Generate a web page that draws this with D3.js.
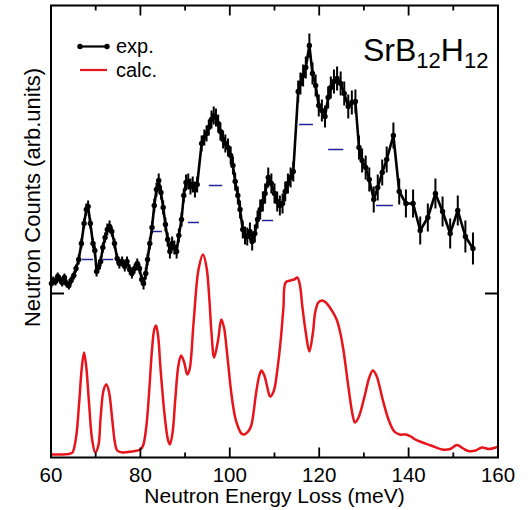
<!DOCTYPE html>
<html>
<head>
<meta charset="utf-8">
<script src="https://cdn.jsdelivr.net/npm/d3@7"></script>
<style>
  html, body { margin: 0; padding: 0; background: #fff; }
  svg { display: block; font-family: "Liberation Sans", Arial, sans-serif; }
</style>
</head>
<body>
<svg id="chart" width="529" height="510"></svg>
<script>
// x ticks (meV)
const majorTicks = [60, 80, 100, 120, 140, 160];
const minorTicks = [70, 90, 110, 130, 150];

// experimental spectrum sits on an offset marked by the y tick
const expOffset = 164;

// [energy, counts, error]
const expData = [
  [60.1, 174, 4], [60.5, 177, 4], [61.0, 176, 4], [61.5, 181, 4], [62.0, 178, 4],
  [62.5, 175, 4], [63.0, 180, 4], [63.5, 174, 4], [64.0, 172, 4], [64.5, 177, 4],
  [65.1, 182, 4], [65.6, 189, 4], [66.2, 198, 5], [66.8, 214, 5], [67.4, 234, 5],
  [67.9, 248, 6], [68.3, 251, 6], [68.8, 234, 5], [69.4, 214, 5], [69.8, 207, 5],
  [70.2, 186, 5], [70.6, 190, 5], [71.1, 196, 5], [71.6, 210, 5], [72.1, 220, 5],
  [72.6, 228, 6], [73.1, 231, 6], [73.6, 226, 5], [74.2, 214, 5], [74.8, 199, 5],
  [75.3, 194, 5], [75.9, 196, 5], [76.5, 191, 5], [77.0, 196, 5], [77.6, 188, 5],
  [78.1, 184, 5], [78.7, 189, 5], [79.3, 194, 5], [79.8, 189, 5], [80.3, 178, 5],
  [80.7, 174, 6], [81.2, 184, 6], [81.6, 198, 6], [82.1, 214, 6], [82.6, 230, 6],
  [83.1, 252, 7], [83.6, 268, 7], [84.1, 277, 7], [84.6, 265, 7], [85.1, 250, 7],
  [85.6, 233, 7], [86.1, 218, 7], [86.6, 206, 7], [87.1, 214, 7], [87.6, 210, 7],
  [88.1, 206, 7], [88.6, 222, 7], [89.2, 238, 7], [89.7, 262, 7], [90.2, 275, 8],
  [90.7, 276, 8], [91.2, 271, 8], [91.7, 273, 8], [92.2, 268, 8], [92.7, 273, 8],
  [93.7, 314, 8], [94.3, 320, 8], [94.8, 324, 8], [95.3, 330, 8], [95.9, 338, 9],
  [96.4, 342, 9], [96.9, 340, 9], [97.4, 334, 9], [97.9, 326, 9], [98.5, 318, 9],
  [99.0, 314, 9], [99.6, 310, 9], [100.2, 302, 9], [100.7, 292, 9], [101.2, 276, 9],
  [101.8, 262, 9], [102.3, 248, 9], [102.9, 228, 9], [103.4, 222, 9], [103.9, 221, 9],
  [104.5, 226, 9], [105.0, 216, 9], [105.6, 224, 9], [106.2, 238, 9], [106.8, 248, 10],
  [107.4, 256, 10], [107.9, 264, 10], [108.6, 280, 10], [109.3, 274, 10], [110.0, 264, 10],
  [110.6, 256, 10], [111.2, 252, 10], [111.8, 254, 10], [112.4, 266, 10], [113.0, 274, 10],
  [113.6, 280, 10], [114.2, 286, 10], [115.3, 366, 11], [115.8, 374, 11], [116.4, 382, 11],
  [117.0, 390, 11], [117.8, 412, 12], [118.5, 384, 11], [119.2, 372, 11], [119.9, 352, 11],
  [120.6, 347, 11], [121.3, 341, 11], [122.0, 360, 11], [122.6, 370, 11], [123.3, 376, 12],
  [124.0, 379, 12], [124.8, 374, 12], [125.6, 364, 12], [126.5, 351, 12], [127.3, 355, 12],
  [128.1, 356, 12], [128.9, 310, 12], [129.6, 297, 12], [130.4, 290, 12], [131.2, 278, 12],
  [132.2, 258, 13], [133.1, 270, 13], [134.1, 285, 13], [135.1, 298, 13], [136.6, 322, 13],
  [137.9, 266, 13], [139.4, 254, 14], [141.0, 254, 14], [142.6, 227, 14], [144.3, 240, 14],
  [146.0, 264, 15], [147.6, 246, 15], [149.3, 224, 15], [151.0, 247, 15], [152.7, 221, 16],
  [154.4, 209, 16]
];

// [energy, intensity]
const calcData = [
  [60, 3], [62, 3], [64, 3.5], [64.8, 5], [65.6, 20], [66.3, 55], [66.9, 90], [67.4, 105],
  [67.9, 90], [68.5, 55], [69.2, 18], [69.9, 5], [70.6, 12], [71.1, 40], [71.8, 68], [72.4, 73],
  [73.0, 65], [73.7, 38], [74.3, 15], [74.8, 7], [76, 5], [78, 6], [80, 8], [80.6, 12],
  [81.3, 30], [81.9, 62], [82.6, 108], [83.1, 128], [83.5, 132], [84.0, 120], [84.4, 95],
  [85.0, 62], [85.6, 35], [86.2, 17], [86.6, 13], [87.2, 25], [87.8, 58], [88.5, 92],
  [89.1, 102], [89.8, 95], [90.5, 83], [91.0, 88], [91.9, 135], [93.0, 188], [94.0, 203],
  [94.8, 190], [95.4, 160], [95.9, 125], [96.5, 100], [97.4, 118], [98.1, 138],
  [98.7, 130], [99.3, 108], [100.4, 62], [101.2, 40], [101.9, 30], [102.6, 24], [103.2, 23],
  [104.1, 26], [104.8, 32], [105.9, 65], [106.6, 82], [107.1, 87], [107.8, 81], [108.4, 70],
  [109.0, 61], [109.8, 66], [110.7, 90], [111.4, 118], [112.0, 150], [112.5, 175],
  [113.6, 177], [114.4, 178], [115.1, 180], [115.7, 172], [116.2, 152], [117.0, 125],
  [117.8, 106], [118.6, 125], [119.1, 145], [119.8, 155], [120.6, 157], [121.5, 155],
  [122.4, 150], [123.9, 138], [124.7, 125], [125.4, 108], [126.7, 65], [127.5, 42],
  [128.0, 35], [128.8, 40], [130.2, 62], [131.2, 80], [132.0, 87], [132.8, 82], [134.2, 58],
  [135.5, 38], [136.8, 26], [138.0, 23], [139.4, 23], [140.5, 21], [141.5, 18], [143.1, 15],
  [145.0, 12], [147.5, 8], [149.3, 8.5], [150.8, 12.5], [152.2, 9], [153.4, 6.5], [155.0, 7],
  [156.4, 10], [158.0, 8.5], [159.5, 10], [160, 11]
];

// short blue markers: [from energy, to energy, level]
const markerBars = [
  [66.9, 69.4, 198], [71.6, 73.9, 198], [82.5, 84.8, 226], [90.6, 93.1, 235],
  [95.3, 98.3, 272], [107.2, 109.7, 237], [115.5, 118.6, 333], [122.0, 125.4, 308],
  [132.7, 136.5, 252]
];

const svg = d3.select("#chart");

const x = d3.scaleLinear().domain([60, 160]).range([51, 498]);
const y = d3.scaleLinear().domain([0, 452]).range([457.5, 5.5]);

const gPlot = svg.append("g");

// calc curve
const calcLine = d3.line()
  .x((d) => x(d[0]))
  .y((d) => y(d[1]))
  .curve(d3.curveCatmullRom.alpha(0.5));

gPlot.append("path")
  .datum(calcData)
  .attr("d", calcLine)
  .attr("fill", "none")
  .attr("stroke", "#e8141b")
  .attr("stroke-width", 2.5)
  .attr("stroke-linejoin", "round");

// marker bars
gPlot.selectAll("line.mark")
  .data(markerBars)
  .join("line")
  .attr("class", "mark")
  .attr("x1", (d) => x(d[0]))
  .attr("x2", (d) => x(d[1]))
  .attr("y1", (d) => y(d[2]))
  .attr("y2", (d) => y(d[2]))
  .attr("stroke", "#22229c")
  .attr("stroke-width", 1.5);

// exp error bars
gPlot.selectAll("line.err")
  .data(expData)
  .join("line")
  .attr("class", "err")
  .attr("x1", (d) => x(d[0]))
  .attr("x2", (d) => x(d[0]))
  .attr("y1", (d) => y(d[1] - d[2]))
  .attr("y2", (d) => y(d[1] + d[2]))
  .attr("stroke", "#000")
  .attr("stroke-width", 2);

const expLine = d3.line()
  .x((d) => x(d[0]))
  .y((d) => y(d[1]));

gPlot.append("path")
  .datum(expData)
  .attr("d", expLine)
  .attr("fill", "none")
  .attr("stroke", "#000")
  .attr("stroke-width", 2.6)
  .attr("stroke-linejoin", "round");

gPlot.selectAll("circle.pt")
  .data(expData)
  .join("circle")
  .attr("class", "pt")
  .attr("cx", (d) => x(d[0]))
  .attr("cy", (d) => y(d[1]))
  .attr("r", 2.7)
  .attr("fill", "#000");

// frame
const [x0, x1] = x.range();
const [yb, yt] = y.range();
svg.append("rect")
  .attr("x", x0).attr("y", yt)
  .attr("width", x1 - x0).attr("height", yb - yt)
  .attr("fill", "none")
  .attr("stroke", "#000")
  .attr("stroke-width", 2);

// ticks, drawn inward on all four sides
const tickData = majorTicks.map((v) => ({ v, len: 10 }))
  .concat(minorTicks.map((v) => ({ v, len: 5 })));

svg.selectAll("line.xb")
  .data(tickData)
  .join("line")
  .attr("class", "xb")
  .attr("x1", (d) => x(d.v)).attr("x2", (d) => x(d.v))
  .attr("y1", yb).attr("y2", (d) => yb - d.len)
  .attr("stroke", "#000").attr("stroke-width", 1.8);

svg.selectAll("line.xt")
  .data(tickData)
  .join("line")
  .attr("class", "xt")
  .attr("x1", (d) => x(d.v)).attr("x2", (d) => x(d.v))
  .attr("y1", yt).attr("y2", (d) => yt + d.len)
  .attr("stroke", "#000").attr("stroke-width", 1.8);

svg.append("line")
  .attr("x1", x0).attr("x2", x0 + 13)
  .attr("y1", y(expOffset)).attr("y2", y(expOffset))
  .attr("stroke", "#000").attr("stroke-width", 2);

svg.append("line")
  .attr("x1", x1).attr("x2", x1 - 13)
  .attr("y1", y(expOffset)).attr("y2", y(expOffset))
  .attr("stroke", "#000").attr("stroke-width", 2);

svg.selectAll("text.xl")
  .data(majorTicks)
  .join("text")
  .attr("class", "xl")
  .attr("x", (d) => x(d))
  .attr("y", 482)
  .attr("text-anchor", "middle")
  .attr("font-size", 20.5)
  .text((d) => d);

svg.append("text")
  .attr("x", (x0 + x1) / 2)
  .attr("y", 503)
  .attr("text-anchor", "middle")
  .attr("font-size", 21)
  .text("Neutron Energy Loss (meV)");

svg.append("text")
  .attr("transform", `translate(40, ${(yt + yb) / 2 - 34}) rotate(-90)`)
  .attr("text-anchor", "middle")
  .attr("font-size", 22)
  .text("Neutron Counts (arb.units)");

// legend
const legend = svg.append("g");
legend.append("line")
  .attr("x1", 80).attr("x2", 107).attr("y1", 46.5).attr("y2", 46.5)
  .attr("stroke", "#000").attr("stroke-width", 2.2);
legend.selectAll("circle")
  .data([80, 107])
  .join("circle")
  .attr("cx", (d) => d).attr("cy", 46.5).attr("r", 2.7).attr("fill", "#000");
legend.append("text")
  .attr("x", 116).attr("y", 53).attr("font-size", 20).text("exp.");
legend.append("line")
  .attr("x1", 80).attr("x2", 107).attr("y1", 70).attr("y2", 70)
  .attr("stroke", "#e8141b").attr("stroke-width", 2.2);
legend.append("text")
  .attr("x", 116).attr("y", 77).attr("font-size", 20).text("calc.");

// compound label
const title = svg.append("text")
  .attr("x", 363).attr("y", 61).attr("font-size", 32);
title.append("tspan").text("SrB");
title.append("tspan").attr("font-size", 22).attr("dy", 7).text("12");
title.append("tspan").attr("dy", -7).text("H");
title.append("tspan").attr("font-size", 22).attr("dy", 7).text("12");
</script>
</body>
</html>
